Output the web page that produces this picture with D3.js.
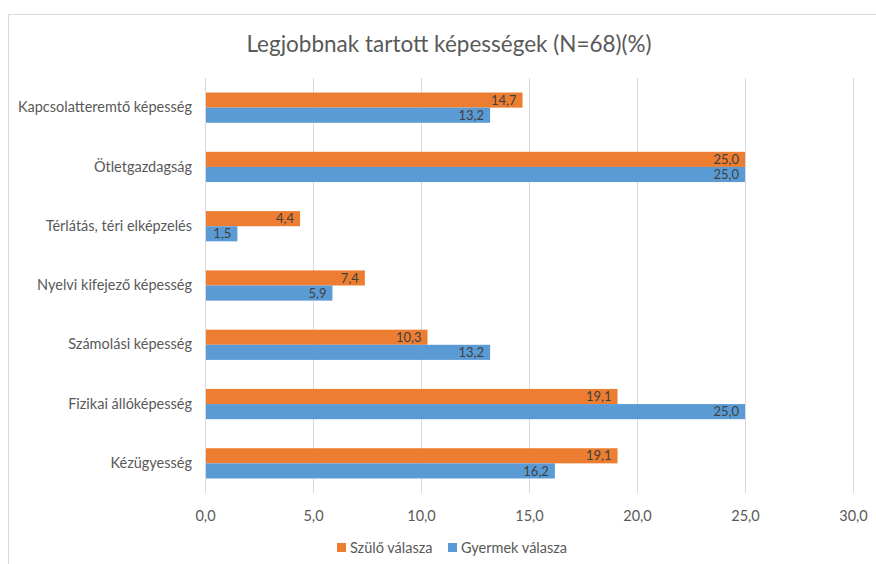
<!DOCTYPE html>
<html>
<head>
<meta charset="utf-8">
<script src="https://cdn.jsdelivr.net/npm/d3@7"></script>
<style>
  html, body { margin: 0; padding: 0; background: #fff; }
  svg { display: block; font-family: Lato, "Open Sans", sans-serif; }
</style>
</head>
<body>
<svg id="chart" width="876" height="564"></svg>
<script>
const categories = [
  "Kapcsolatteremtő képesség",
  "Ötletgazdagság",
  "Térlátás, téri elképzelés",
  "Nyelvi kifejező képesség",
  "Számolási képesség",
  "Fizikai állóképesség",
  "Kézügyesség"
];
const seriesNames = ["Szülő válasza", "Gyermek válasza"];
const parentValues = [14.7, 25.0, 4.4, 7.4, 10.3, 19.1, 19.1];
const childValues  = [13.2, 25.0, 1.5, 5.9, 13.2, 25.0, 16.2];
const xTicks = [0, 5, 10, 15, 20, 25, 30];
const colors = ["#ED7D31", "#5B9BD5"];

const fmt = v => v.toFixed(1).replace(".", ",");
const FONT = "Lato, 'Open Sans', sans-serif";

const svg = d3.select("#chart");

// outer chart frame
svg.append("rect")
  .attr("x", 8.5).attr("y", 14.5)
  .attr("width", 900).attr("height", 600)
  .attr("fill", "none").attr("stroke", "#d9d9d9").attr("stroke-width", 1);

const plot = { left: 205, right: 853, top: 78, bottom: 493 };

const x = d3.scaleLinear().domain([0, 30]).range([plot.left, plot.right]);
const y = d3.scaleBand().domain(categories).range([plot.top, plot.bottom]).paddingInner(0.49).paddingOuter(0.245);
const ySub = d3.scaleBand().domain(seriesNames).range([0, y.bandwidth()]);

// title
svg.append("text")
  .attr("x", 449).attr("y", 52)
  .attr("text-anchor", "middle")
  .attr("font-size", 22.5)
  .attr("fill", "#595959")
  .text("Legjobbnak tartott képességek (N=68)(%)");

// vertical gridlines
svg.append("g").selectAll("line").data(xTicks).join("line")
  .attr("x1", d => x(d) + 0.5).attr("x2", d => x(d) + 0.5)
  .attr("y1", plot.top).attr("y2", plot.bottom)
  .attr("stroke", "#d9d9d9").attr("stroke-width", 1);

// x axis labels
const xAxis = d3.axisBottom(x).tickValues(xTicks).tickFormat(fmt).tickSize(0).tickPadding(0);
const gx = svg.append("g").attr("transform", `translate(0,${plot.bottom + 23})`).call(xAxis);
gx.select(".domain").remove();
gx.selectAll("text").attr("y", 0).attr("dy", "0.36em")
  .attr("font-size", 14.5).attr("fill", "#595959").attr("font-family", FONT);

// category labels
const yAxis = d3.axisLeft(y).tickSize(0).tickPadding(13);
const gy = svg.append("g").attr("transform", `translate(${plot.left},0)`).call(yAxis);
gy.select(".domain").remove();
gy.selectAll("text").attr("font-size", 14.5).attr("fill", "#595959").attr("font-family", FONT);

// bars
const rows = categories.map((c, i) => ({ cat: c, vals: [parentValues[i], childValues[i]] }));
const groups = svg.append("g").selectAll("g").data(rows).join("g")
  .attr("transform", d => `translate(0,${y(d.cat)})`);

groups.selectAll("rect").data(d => d.vals.map((v, j) => ({ v, s: seriesNames[j], j }))).join("rect")
  .attr("x", x(0) + 1)
  .attr("y", d => ySub(d.s))
  .attr("width", d => x(d.v) - x(0) - 1)
  .attr("height", ySub.bandwidth())
  .attr("fill", d => colors[d.j]);

// value labels inside the bar ends
groups.selectAll("text").data(d => d.vals.map((v, j) => ({ v, s: seriesNames[j], j }))).join("text")
  .attr("x", d => x(d.v) - 6)
  .attr("y", d => ySub(d.s) + ySub.bandwidth() / 2)
  .attr("dy", "0.36em")
  .attr("text-anchor", "end")
  .attr("font-size", 13)
  .attr("fill", "#404040")
  .text(d => fmt(d.v));

// legend
const legend = svg.append("g").attr("transform", "translate(337,548)");
const legendX = [0, 111];
seriesNames.forEach((name, i) => {
  const g = legend.append("g").attr("transform", `translate(${legendX[i]},0)`);
  g.append("rect").attr("x", 0).attr("y", -5).attr("width", 9).attr("height", 9).attr("fill", colors[i]);
  g.append("text").attr("x", 13).attr("y", 0).attr("dy", "0.36em")
    .attr("font-size", 14.5).attr("fill", "#595959").text(name);
});
</script>
</body>
</html>
